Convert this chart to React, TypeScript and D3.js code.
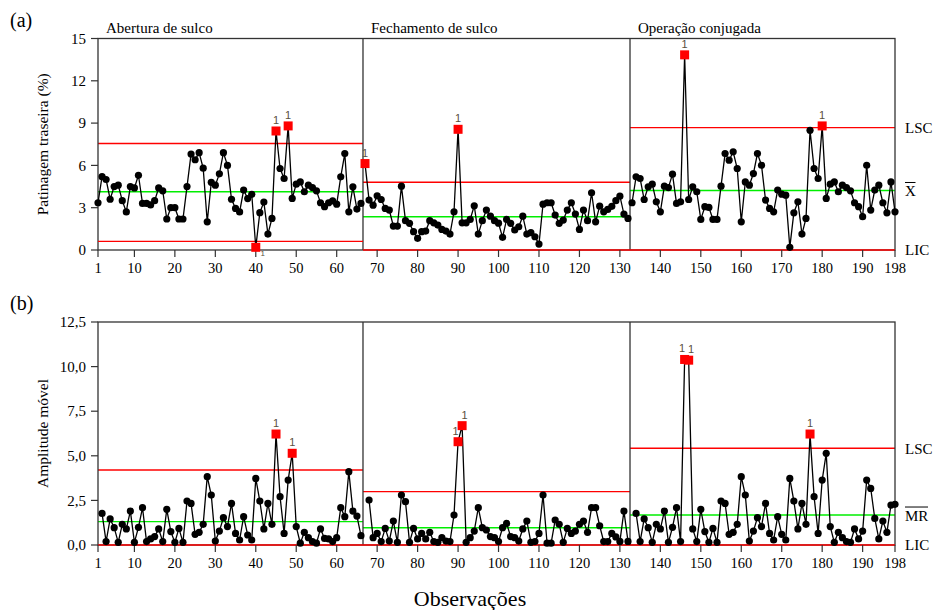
import React from 'react';
import * as d3 from 'd3';

// Stages of the operation
const stageNames = ['Abertura de sulco', 'Fechamento de sulco', 'Operação conjugada'];
const stageStart = [1, 67, 133];
const stageEnd = [66, 132, 198];

// Individual values, Patinagem traseira (%)
const xStage1 = [
  3.35, 5.2, 5.0, 3.6, 4.5, 4.6, 3.5, 2.7, 4.5, 4.4, 5.3, 3.3, 3.3, 3.2, 3.5, 4.4, 4.2, 2.2, 3.0, 3.0,
  2.2, 2.2, 4.5, 6.8, 6.4, 6.9, 5.8, 2.0, 4.8, 4.6, 5.4, 6.9, 6.0, 3.6, 2.95, 2.7, 4.25, 3.65, 3.95, 0.19,
  2.65, 3.4, 1.13, 2.24, 8.44, 5.78, 5.07, 8.8, 3.66, 4.67, 4.83, 4.13, 4.6, 4.43, 4.2, 3.35, 3.07, 3.35, 3.49, 3.25,
  5.19, 6.84, 2.71, 4.48, 2.9, 3.3,
];
const xStage2 = [
  6.13, 3.54, 3.18, 3.84, 3.58, 2.95, 2.83, 1.7, 1.7, 4.53, 2.08, 1.89, 1.3, 0.83, 1.3, 1.34, 2.08, 1.93, 1.77, 1.46,
  1.34, 1.13, 2.71, 8.56, 1.93, 1.93, 2.17, 3.14, 1.13, 2.08, 2.83, 2.4, 2.08, 1.9, 0.9, 2.17, 1.89, 1.42, 1.65, 2.4,
  1.13, 1.23, 0.94, 0.42, 3.25, 3.35, 3.35, 2.48, 1.89, 2.12, 2.83, 3.35, 2.55, 1.46, 2.83, 2.08, 4.06, 2.0, 3.11, 2.71,
  2.88, 3.1, 3.5, 3.82, 2.55, 2.24,
];
const xStage3 = [
  3.35, 5.19, 5.07, 3.58, 4.48, 4.67, 3.42, 2.71, 4.53, 4.43, 5.38, 3.3, 3.42, 13.84, 3.58, 4.48, 4.13, 2.17, 3.07, 3.02,
  2.17, 2.17, 4.53, 6.84, 6.37, 6.96, 5.78, 2.0, 4.83, 4.6, 5.42, 6.84, 6.01, 3.54, 2.95, 2.71, 4.25, 3.96, 3.89, 0.19,
  2.64, 3.42, 1.13, 2.24, 8.49, 5.78, 5.07, 8.8, 3.66, 4.67, 4.83, 4.13, 4.6, 4.43, 4.2, 3.35, 3.07, 2.36, 6.01, 2.83,
  4.25, 4.6, 3.35, 2.64, 4.83, 2.71,
];

// Moving ranges (first observation of each stage has none)
const mrStage1 = [
  1.77, 0.19, 1.46, 0.97, 0.15, 1.16, 0.9, 1.9, 0.15, 0.99, 2.09, 0.19, 0.34, 0.47, 0.9, 0.19, 2.0, 0.75, 0.15, 0.93,
  0.15, 2.46, 2.33, 0.6, 0.71, 1.16, 3.83, 2.8, 0.22, 0.78, 1.53, 1.03, 2.33, 0.65, 0.28, 1.59, 0.56, 0.28, 3.73, 2.46,
  0.9, 2.33, 1.16, 6.22, 2.71, 0.65, 3.64, 5.14, 1.03, 0.1, 0.71, 0.41, 0.19, 0.1, 0.9, 0.37, 0.34, 0.19, 0.41, 2.09,
  1.59, 4.11, 1.9, 1.62, 0.52,
];
const mrStage2 = [
  2.52, 0.41, 0.65, 0.19, 0.93, 0.22, 1.34, 0.15, 2.8, 2.43, 0.15, 0.93, 0.34, 0.65, 0.34, 0.71, 0.19, 0.15, 0.41, 0.22,
  0.19, 1.68, 5.79, 6.69, 0.15, 0.41, 0.78, 2.09, 0.97, 0.84, 0.47, 0.41, 0.19, 0.97, 1.21, 0.47, 0.41, 0.22, 0.9, 1.34,
  0.15, 0.19, 0.65, 2.8, 0.1, 0.1, 1.4, 1.16, 0.15, 0.93, 0.65, 0.78, 1.16, 1.34, 0.71, 2.09, 2.09, 1.08, 0.19, 0.19,
  0.65, 0.45, 0.2, 1.9, 0.2,
];
const mrStage3 = [
  1.77, 0.19, 1.46, 0.97, 0.15, 1.16, 0.9, 1.9, 0.15, 0.99, 2.09, 0.19, 10.4, 10.36, 0.9, 0.19, 2.0, 0.75, 0.15, 0.93,
  0.15, 2.46, 2.33, 0.6, 0.71, 1.16, 3.83, 2.8, 0.22, 0.78, 1.53, 1.03, 2.33, 0.65, 0.28, 1.59, 0.6, 0.28, 3.73, 2.46,
  0.9, 2.33, 1.16, 6.22, 2.71, 0.65, 3.64, 5.14, 1.03, 0.15, 0.71, 0.41, 0.19, 0.15, 0.9, 0.34, 0.78, 3.64, 3.17, 1.49,
  0.34, 1.34, 0.71, 2.24, 2.28,
];

// Control limits per stage
const xLSC = [7.55, 4.81, 8.68];
const xCenter = [4.13, 2.36, 4.22];
const xLIC = [0.61, 0, 0];
const mrLSC = [4.2, 2.99, 5.42];
const mrCenter = [1.31, 0.97, 1.68];
const mrLIC = [0, 0, 0];

const xTicks = [1, 10, 20, 30, 40, 50, 60, 70, 80, 90, 100, 110, 120, 130, 140, 150, 160, 170, 180, 190, 198];
const yTicksA = [0, 3, 6, 9, 12, 15];
const yTicksB = [0, 2.5, 5, 7.5, 10, 12.5];

const FONT = '"Liberation Serif", "Times New Roman", serif';
const RED = '#ff0000';
const GREEN = '#00ee00';
const AXIS = '#333';

const xs = d3.scaleLinear().domain([1, 198]).range([98, 895]);

interface PanelProps {
  top: number;
  bottom: number;
  yMax: number;
  yTicks: number[];
  fmt: (v: number) => string;
  stages: number[][];
  starts: number[];
  lsc: number[];
  center: number[];
  lic: number[];
  tag: string;
  yTitle: string;
  centerLabel: string;
  showStageNames: boolean;
}

const Panel: React.FC<PanelProps> = ({
  top, bottom, yMax, yTicks, fmt, stages, starts, lsc, center, lic, tag, yTitle, centerLabel, showStageNames,
}) => {
  const ys = d3.scaleLinear().domain([0, yMax]).range([bottom, top]);
  const x0 = xs(1);
  const x1 = xs(198);
  const line = d3
    .line<[number, number]>()
    .x((d) => xs(d[0]))
    .y((d) => ys(d[1]));

  const edges = [0, 1, 2].map((s) => [s === 0 ? 1 : stageStart[s] - 0.5, s === 2 ? 198 : stageEnd[s] + 0.5]);
  const centerW = centerLabel === 'X' ? 10.5 : 23;

  return (
    <g>
      {/* limit lines */}
      {edges.map(([a, b], s) => (
        <g key={`lim${s}`}>
          <line x1={xs(a)} x2={xs(b)} y1={ys(lsc[s])} y2={ys(lsc[s])} stroke={RED} strokeWidth={1.4} />
          <line x1={xs(a)} x2={xs(b)} y1={ys(center[s])} y2={ys(center[s])} stroke={GREEN} strokeWidth={1.4} />
        </g>
      ))}

      {/* frame and stage dividers */}
      <rect x={x0} y={top} width={x1 - x0} height={bottom - top} fill="none" stroke={AXIS} strokeWidth={1.3} />
      {[1, 2].map((s) => (
        <line key={`div${s}`} x1={xs(edges[s][0])} x2={xs(edges[s][0])} y1={top} y2={bottom} stroke={AXIS} strokeWidth={1.3} />
      ))}
      {edges.map(([a, b], s) => (
        <line key={`lic${s}`} x1={xs(a)} x2={xs(b)} y1={ys(lic[s])} y2={ys(lic[s])} stroke={RED} strokeWidth={1.4} />
      ))}

      {/* y ticks */}
      {yTicks.map((t) => (
        <g key={`yt${t}`}>
          <line x1={x0 - 7} x2={x0} y1={ys(t)} y2={ys(t)} stroke={AXIS} strokeWidth={1.2} />
          <text x={x0 - 12} y={ys(t)} dy="0.35em" textAnchor="end" fontSize={15} fontFamily={FONT}>
            {fmt(t)}
          </text>
        </g>
      ))}
      {/* x ticks */}
      {xTicks.map((t) => (
        <g key={`xt${t}`}>
          <line x1={xs(t)} x2={xs(t)} y1={bottom} y2={bottom + 7} stroke={AXIS} strokeWidth={1.2} />
          <text x={xs(t)} y={bottom + 23} textAnchor="middle" fontSize={14.5} fontFamily={FONT}>
            {t}
          </text>
        </g>
      ))}

      {/* series */}
      {stages.map((vals, s) => {
        const pts: [number, number][] = vals.map((v, i) => [starts[s] + i, v]);
        const isOut = (v: number | undefined) => v !== undefined && (v > lsc[s] || v < lic[s]);
        return (
          <g key={`ser${s}`}>
            <path d={line(pts) || ''} fill="none" stroke="#000" strokeWidth={1.3} />
            {pts.map(([o, v], i) => {
              if (!isOut(v)) return <circle key={o} cx={xs(o)} cy={ys(v)} r={3.6} fill="#000" />;
              const above = v > lsc[s];
              // nudge labels apart when two neighbours are both flagged
              const shift = isOut(vals[i + 1]) ? -2.5 : isOut(vals[i - 1]) ? 2.5 : 0;
              return (
                <g key={o}>
                  <rect x={xs(o) - 4.5} y={ys(v) - 4.5} width={9} height={9} fill={RED} />
                  <text
                    x={xs(o) + (above ? shift : 7)}
                    y={above ? ys(v) - 7 : ys(v) + 9}
                    textAnchor="middle"
                    fontSize={above ? 11 : 8}
                    fontFamily="Arial, sans-serif"
                    fill="#5a5040"
                  >
                    1
                  </text>
                </g>
              );
            })}
          </g>
        );
      })}

      {/* right labels */}
      <text x={905} y={ys(lsc[2])} dy="0.35em" fontSize={15} fontFamily={FONT}>
        LSC
      </text>
      <text x={905} y={ys(center[2])} dy="0.4em" fontSize={15} fontFamily={FONT}>
        {centerLabel}
      </text>
      <line x1={905} x2={905 + centerW} y1={ys(center[2]) - 8} y2={ys(center[2]) - 8} stroke="#000" strokeWidth={1} />
      <text x={905} y={ys(lic[2])} dy="0.35em" fontSize={15} fontFamily={FONT}>
        LIC
      </text>

      {/* titles */}
      <text x={10} y={top - 12} fontSize={20} fontFamily={FONT}>
        {tag}
      </text>
      <text
        transform={`translate(48,${(top + bottom) / 2}) rotate(-90)`}
        textAnchor="middle"
        fontSize={15.5}
        fontFamily={FONT}
      >
        {yTitle}
      </text>
      {showStageNames &&
        stageNames.map((n, s) => (
          <text key={n} x={xs(edges[s][0]) + 8} y={top - 6} fontSize={15} fontFamily={FONT}>
            {n}
          </text>
        ))}
    </g>
  );
};

export default function App() {
  const fmtB = (v: number) => v.toFixed(1).replace('.', ',');
  return (
    <svg
      width={935}
      height={610}
      style={{ position: 'absolute', left: 0, top: 0, background: '#fff' }}
    >
      <rect width={935} height={610} fill="#fff" />
      <Panel
        top={38.5}
        bottom={250}
        yMax={15}
        yTicks={yTicksA}
        fmt={(v) => String(v)}
        stages={[xStage1, xStage2, xStage3]}
        starts={stageStart}
        lsc={xLSC}
        center={xCenter}
        lic={xLIC}
        tag="(a)"
        yTitle="Patinagem traseira (%)"
        centerLabel="X"
        showStageNames
      />
      <Panel
        top={322}
        bottom={545}
        yMax={12.5}
        yTicks={yTicksB}
        fmt={fmtB}
        stages={[mrStage1, mrStage2, mrStage3]}
        starts={stageStart.map((s) => s + 1)}
        lsc={mrLSC}
        center={mrCenter}
        lic={mrLIC}
        tag="(b)"
        yTitle="Amplitude móvel"
        centerLabel="MR"
        showStageNames={false}
      />
      <text x={470} y={606} textAnchor="middle" fontSize={22} fontFamily={FONT}>
        Observações
      </text>
    </svg>
  );
}
